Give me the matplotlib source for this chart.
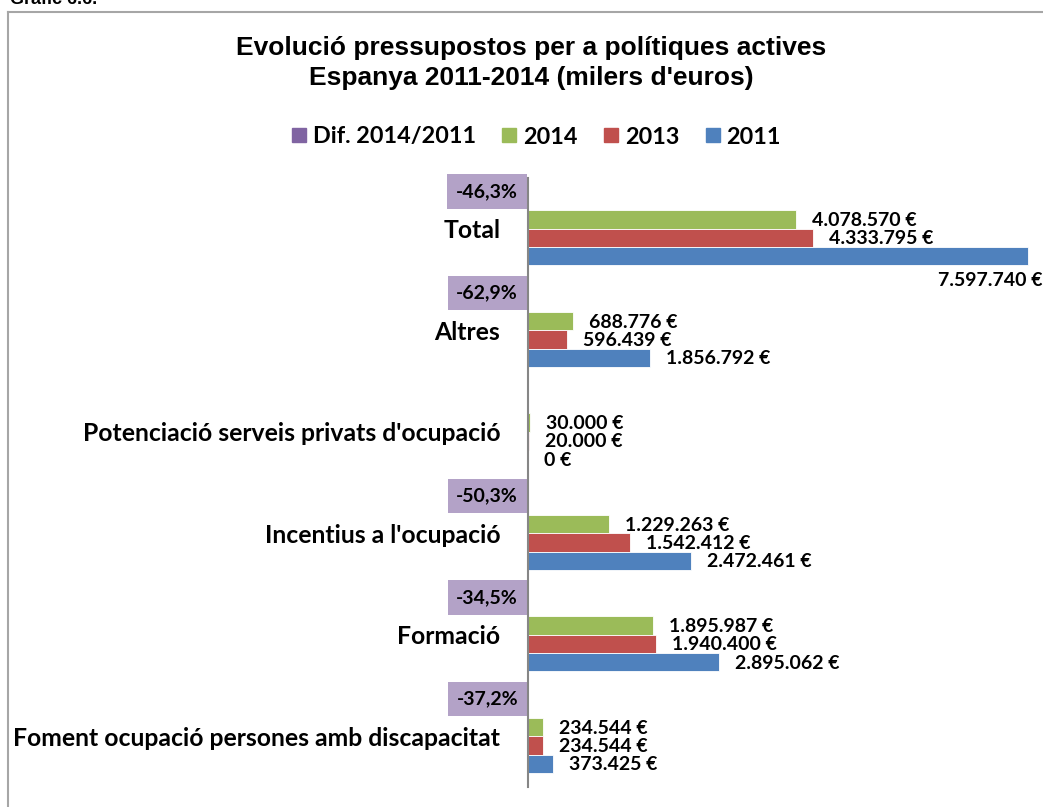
import matplotlib
matplotlib.use("Agg")
import matplotlib.pyplot as plt
from matplotlib.lines import Line2D
import numpy as np

# ---- data ----
categories = ["Foment ocupació persones amb discapacitat", "Formació",
              "Incentius a l'ocupació", "Potenciació serveis privats d'ocupació",
              "Altres", "Total"]
v2011 = [373425, 2895062, 2472461, 0, 1856792, 7597740]
v2013 = [234544, 1940400, 1542412, 20000, 596439, 4333795]
v2014 = [234544, 1895987, 1229263, 30000, 688776, 4078570]
dif_pct = [-37.2, -34.5, -50.3, None, -62.9, -46.3]
series_names = ["Dif. 2014/2011", "2014", "2013", "2011"]

title_lines = ["Evolució pressupostos per a polítiques actives",
               "Espanya 2011-2014 (milers d'euros)"]

C_BLUE = "#4F81BD"
C_RED = "#C0504D"
C_GREEN = "#9BBB59"
C_PURPLE = "#8064A2"
C_BOX = "#B3A2C7"

W, H = 1043, 807
fig = plt.figure(figsize=(W / 100, H / 100), dpi=100)

LAB_FONT = "Lato"

# axes: left at x=528px, top at 178px, bottom at 787px
ax = fig.add_axes([528 / W, (H - 787) / H, (W - 528) / W, (787 - 178) / H])

n = len(categories)
y = np.arange(n)
bh = 0.18
offs = {"dif": 1.5 * bh, "2014": 0.5 * bh, "2013": -0.5 * bh, "2011": -1.5 * bh}

dif_vals = [d if d is not None else 0 for d in dif_pct]
ax.barh(y + offs["dif"], dif_vals, height=bh, color=C_PURPLE)
ax.barh(y + offs["2014"], v2014, height=bh, color=C_GREEN, edgecolor="white", linewidth=0.6)
ax.barh(y + offs["2013"], v2013, height=bh, color=C_RED, edgecolor="white", linewidth=0.6)
ax.barh(y + offs["2011"], v2011, height=bh, color=C_BLUE, edgecolor="white", linewidth=0.6)

xmax = 7597740 * 515 / 500
ax.set_xlim(0, xmax)
ax.set_ylim(-0.5, n - 0.5)

def fmt(v):
    return "{:,}".format(int(v)).replace(",", ".") + " €"

lab_kw = dict(fontsize=14, fontweight="bold", family=LAB_FONT, color="black")
for vals, key in [(v2014, "2014"), (v2013, "2013"), (v2011, "2011")]:
    for i, v in enumerate(vals):
        yy = y[i] + offs[key]
        if v / xmax > 0.8:
            ax.annotate(fmt(v), xy=(1.0, yy), xycoords=("axes fraction", "data"),
                        xytext=(0, -24), textcoords="offset pixels",
                        ha="right", va="center", **lab_kw)
        else:
            ax.annotate(fmt(v), xy=(v, yy), xytext=(16, -1), textcoords="offset pixels",
                        ha="left", va="center", **lab_kw)

for i, d in enumerate(dif_pct):
    if d is None:
        continue
    txt = ("%.1f%%" % d).replace(".", ",")
    ax.annotate(txt, xy=(0, y[i] + offs["dif"]), xytext=(-10, 10), textcoords="offset pixels",
                ha="right", va="center", annotation_clip=False,
                bbox=dict(boxstyle="square,pad=0.45", fc=C_BOX, ec="none"), **lab_kw)

ax.set_yticks(y)
ax.set_yticklabels(categories, fontsize=17.8, fontweight="bold", family=LAB_FONT)
ax.tick_params(axis="y", length=0, pad=20)
ax.set_xticks([])
for s in ["top", "right", "bottom"]:
    ax.spines[s].set_visible(False)
ax.spines["left"].set_color("#868686")
ax.spines["left"].set_linewidth(1.5)
ax.spines["left"].set_zorder(5)

# title
fig.text(531 / W, 1 - 48 / H, title_lines[0], ha="center", va="center",
         fontsize=19, fontweight="bold", family="Liberation Sans")
fig.text(531 / W, 1 - 78 / H, title_lines[1], ha="center", va="center",
         fontsize=19, fontweight="bold", family="Liberation Sans")

# legend
handles = [Line2D([], [], marker="s", linestyle="none", markersize=10, color=c)
           for c in [C_PURPLE, C_GREEN, C_RED, C_BLUE]]
fig.legend(handles, series_names, loc="center", bbox_to_anchor=(536 / W, 1 - 137 / H),
           ncol=4, frameon=False, handlelength=0.7, handletextpad=0.25, columnspacing=1.07,
           prop=dict(family=LAB_FONT, weight="bold", size=16.8))

# outer frame (partially visible)
fig.add_artist(Line2D([8 / W, 1.0], [1 - 12 / H, 1 - 12 / H], color="#A6A6A6", lw=1.5,
                      transform=fig.transFigure))
fig.add_artist(Line2D([8 / W, 8 / W], [0, 1 - 12 / H], color="#A6A6A6", lw=1.5,
                      transform=fig.transFigure))
# cut-off caption at the very top (as in the reference)
fig.text(10 / W, 1 - 4 / H, "Gràfic 6.6.", ha="left", va="baseline",
         fontsize=13, fontweight="bold", family="Liberation Sans")

fig.savefig("out.png", dpi=100)
